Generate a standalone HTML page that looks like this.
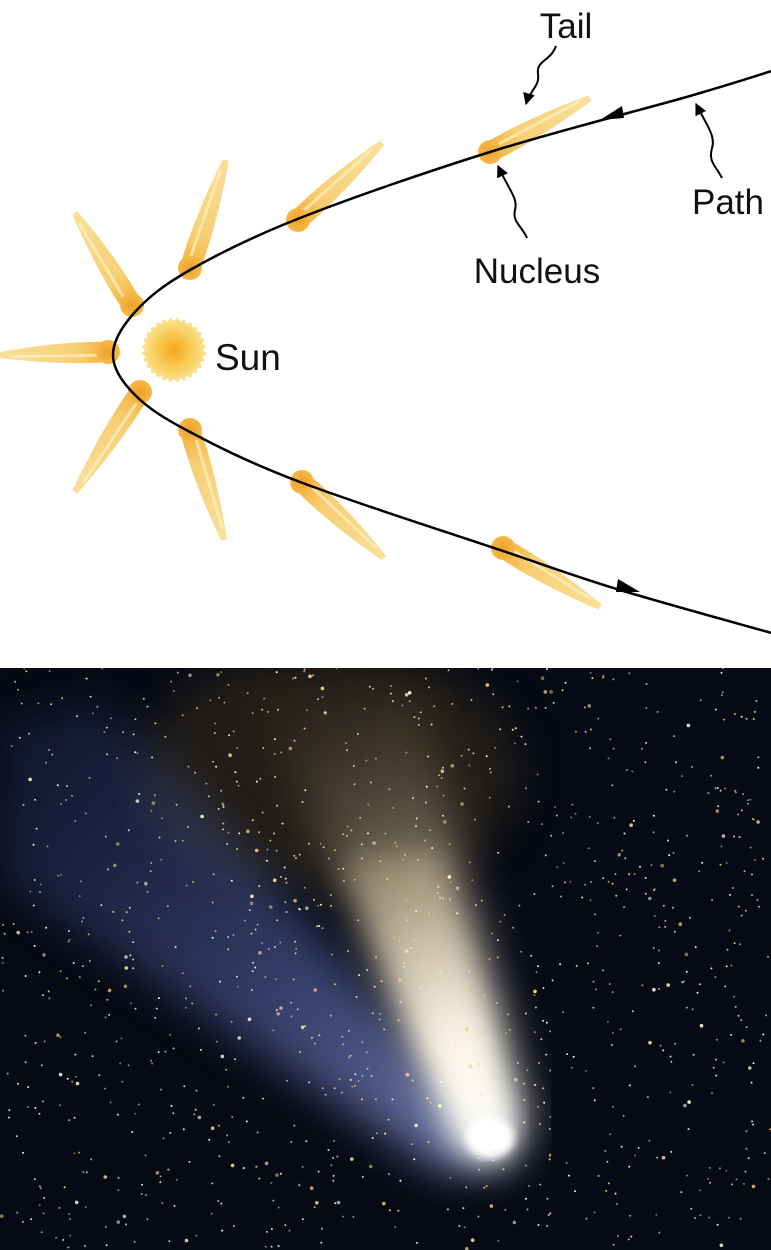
<!DOCTYPE html>
<html><head><meta charset="utf-8"><style>
html,body{margin:0;padding:0;background:#fff;width:771px;height:1250px;overflow:hidden}
svg{display:block}
text{font-family:"Liberation Sans",sans-serif;fill:#111}
</style></head><body>
<svg id="svg" width="771" height="1250" viewBox="0 0 771 1250" xmlns="http://www.w3.org/2000/svg">
<defs>
<linearGradient id="tailg" x1="0" y1="0" x2="1" y2="0">
<stop offset="0" stop-color="#f2b23a"/><stop offset="0.3" stop-color="#f7cf75"/><stop offset="1" stop-color="#f9dc8e" stop-opacity="0.9"/>
</linearGradient>
<radialGradient id="sung"><stop offset="0" stop-color="#f3a91e"/><stop offset="0.6" stop-color="#f8cf5e"/><stop offset="1" stop-color="#fbe49a"/></radialGradient>
<radialGradient id="nucg"><stop offset="0" stop-color="#f0a02a"/><stop offset="1" stop-color="#f6b948"/></radialGradient>
<linearGradient id="whiteg" gradientUnits="userSpaceOnUse" x1="495" y1="1150" x2="300" y2="720">
<stop offset="0" stop-color="#ffffff" stop-opacity="1"/>
<stop offset="0.25" stop-color="#fbf5e6" stop-opacity="0.95"/>
<stop offset="0.55" stop-color="#cfc0a0" stop-opacity="0.6"/>
<stop offset="1" stop-color="#6a5a38" stop-opacity="0.15"/>
</linearGradient>
<linearGradient id="blueg" gradientUnits="userSpaceOnUse" x1="480" y1="1150" x2="20" y2="730">
<stop offset="0" stop-color="#9aa8e8" stop-opacity="1"/>
<stop offset="0.4" stop-color="#6070b8" stop-opacity="0.75"/>
<stop offset="1" stop-color="#2e3a72" stop-opacity="0.4"/>
</linearGradient>
<filter id="blur8"><feGaussianBlur stdDeviation="10"/></filter>
<filter id="blur14"><feGaussianBlur stdDeviation="14"/></filter>
<filter id="blur20"><feGaussianBlur stdDeviation="22"/></filter>
<filter id="blur4"><feGaussianBlur stdDeviation="4"/></filter>
<marker id="arr" viewBox="0 0 10 10" refX="9" refY="5" markerWidth="6" markerHeight="6" orient="auto"><path d="M0,0L10,5L0,10z" fill="#000"/></marker>
<clipPath id="photoclip"><rect x="0" y="668" width="771" height="582"/></clipPath>
</defs>
<g id="diagram"></g>
<g id="photo" clip-path="url(#photoclip)">
<rect x="0" y="668" width="771" height="582" fill="#070914"/>
<ellipse cx="330" cy="770" rx="190" ry="120" fill="#3a331c" opacity="0.5" filter="url(#blur20)"/>
<path d="M0,720 L110,700 L480,1120 L500,1160 L440,1170 L0,880 Z" fill="url(#blueg)" opacity="0.7" filter="url(#blur20)"/>
<path d="M260,700 L420,690 L525,1130 L495,1165 L465,1150 Z" fill="url(#whiteg)" filter="url(#blur20)"/>
<path d="M340,860 L440,850 L512,1135 L492,1160 L466,1145 Z" fill="url(#whiteg)" filter="url(#blur14)"/>
<ellipse cx="490" cy="1138" rx="24" ry="20" fill="#fff" filter="url(#blur4)"/>
<g id="stars"></g>
</g>
<text x="566" y="38" font-size="35" text-anchor="middle">Tail</text>
<text x="537" y="283" font-size="35" text-anchor="middle">Nucleus</text>
<text x="728" y="214" font-size="35" text-anchor="middle">Path</text>
<text x="215" y="370" font-size="37">Sun</text>
</svg>
<script>
const NS="http://www.w3.org/2000/svg";
const diag=document.getElementById('diagram');
function mk(tag,attrs,parent){const e=document.createElementNS(NS,tag);for(const k in attrs)e.setAttribute(k,attrs[k]);(parent||diag).appendChild(e);return e;}
const cometNuc=[[490,152],[298,220],[190,268],[132,305],[108,352],[140,392],[190,430],[302,482],[503,548]];
const cometEnd=[[590,98],[382,143],[226,160],[75,213],[0,355],[75,492],[224,540],[384,558],[600,607]];
cometNuc.forEach((n,i)=>{
 const e=cometEnd[i];const dx=e[0]-n[0],dy=e[1]-n[1];const L=Math.hypot(dx,dy);const a=Math.atan2(dy,dx)*180/Math.PI;
 const g=mk('g',{transform:`translate(${n[0]},${n[1]}) rotate(${a})`});
 
 
 mk('path',{d:`M0,-10 C${L*0.3},-12 ${L*0.7},-8 ${L},-3 L${L},3 C${L*0.7},8 ${L*0.3},12 0,10 Z`,fill:'url(#tailg)'},g);
 mk('path',{d:`M5,-3 L${L*0.9},-2`,stroke:'#fdf0c4','stroke-width':3,opacity:0.7},g);
 mk('circle',{cx:0,cy:0,r:12,fill:'url(#nucg)'},g);
});
let sp='';const N=28;
for(let k=0;k<=N*2;k++){const ang=k*Math.PI/N;const r=k%2?33:29;sp+=(k?'L':'M')+(174+r*Math.cos(ang)).toFixed(1)+','+(350+r*Math.sin(ang)).toFixed(1);}
const sun=mk('path',{d:sp+'Z',fill:'url(#sung)'});


const P=[[775,70],[690,96],[490,152],[300,218],[190,270],[135,312],[113,355],[135,395],[190,432],[300,482],[500,550],[620,590],[775,634]];
let d='M'+P[0];
for(let i=0;i<P.length-1;i++){const p0=P[Math.max(0,i-1)],p1=P[i],p2=P[i+1],p3=P[Math.min(P.length-1,i+2)];
 d+=` C${p1[0]+(p2[0]-p0[0])/6},${p1[1]+(p2[1]-p0[1])/6} ${p2[0]-(p3[0]-p1[0])/6},${p2[1]-(p3[1]-p1[1])/6} ${p2[0]},${p2[1]}`;}
const orbit=mk('path',{d:d,fill:'none',stroke:'#000','stroke-width':2.5});


mk('path',{d:'M600,120 L622,106 L624,118 Z',fill:'#000'});
mk('path',{d:'M640,592 L618,579 L616,592 Z',fill:'#000'});
mk('path',{d:'M556,46 C550,62 536,60 538,74 C540,86 530,90 526,104',fill:'none',stroke:'#000','stroke-width':2,'marker-end':'url(#arr)'});
mk('path',{d:'M527,238 C522,226 512,222 515,210 C518,198 510,192 498,166',fill:'none',stroke:'#000','stroke-width':2,'marker-end':'url(#arr)'});
mk('path',{d:'M722,178 C716,166 708,162 712,148 C716,136 706,124 696,104',fill:'none',stroke:'#000','stroke-width':2,'marker-end':'url(#arr)'});
const st=document.getElementById('stars');let s=12345;function rnd(){s=(s*16807)%2147483647;return s/2147483647;}
for(let i=0;i<1100;i++){const x=rnd()*771,y=668+rnd()*582,r=rnd()<0.1?1.8:1.0;const c=rnd()<0.55?'#f0d090':'#fff6e0';
 mk('circle',{cx:x.toFixed(1),cy:y.toFixed(1),r:r,fill:c,opacity:(0.5+rnd()*0.5).toFixed(2)},st);}
</script>
</body></html>
